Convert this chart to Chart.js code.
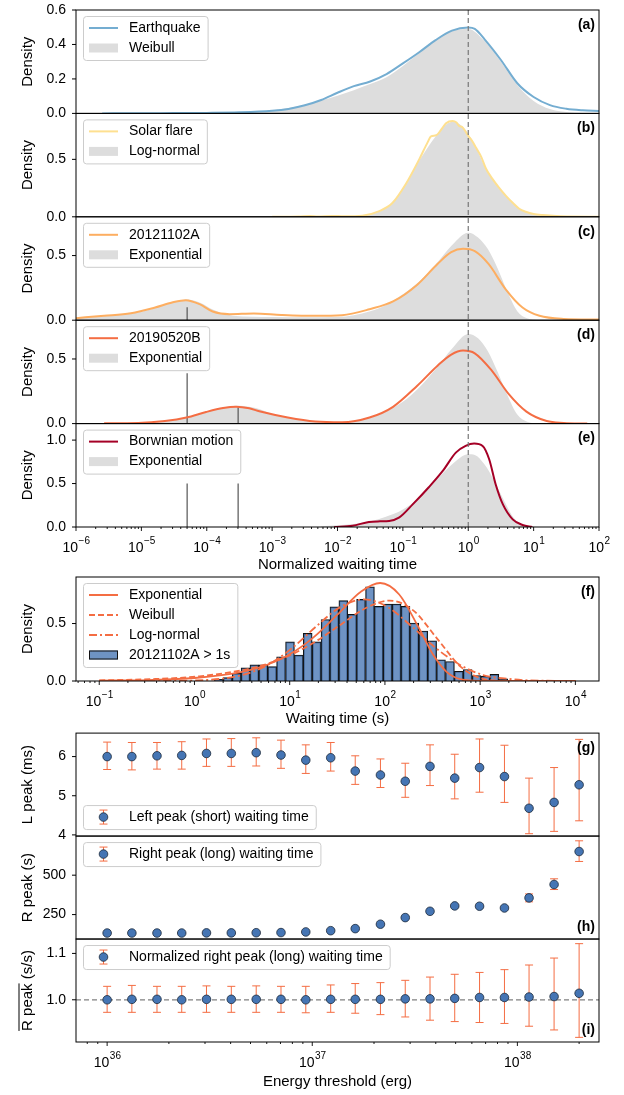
<!DOCTYPE html>
<html>
<head>
<meta charset="utf-8">
<script src="https://cdn.jsdelivr.net/npm/chart.js@4.4.1/dist/chart.umd.min.js"></script>
<style>
  body { margin: 0; background: #fff; }
  #fig { position: relative; width: 624px; height: 1095px; }
  canvas { position: absolute; left: 0; }
</style>
</head>
<body>
<div id="fig">
  <canvas id="c1" width="624" height="574" style="top:0"></canvas>
  <canvas id="c2" width="624" height="154" style="top:574px"></canvas>
  <canvas id="c3" width="624" height="367" style="top:728px"></canvas>
</div>
<script>
// Waiting-time figure: panels (a)-(e) share one log axis, (f) histogram, (g)-(i) energy scan

// ── data (x given as log10 of the value) ────────────────────────────
// (a) earthquake + Weibull
const quakeLogX = [-5.6,-5,-4.5,-4,-3.5,-3,-2.75,-2.5,-2.25,-2,-1.75,-1.5,-1.25,-1,-0.75,-0.5,-0.25,0,0.1,0.25,0.5,0.75,1,1.25,1.5,1.75,2];
const quakeDens = [0,0.001,0.002,0.003,0.006,0.015,0.026,0.047,0.078,0.12,0.158,0.185,0.228,0.29,0.355,0.425,0.48,0.498,0.49,0.43,0.31,0.175,0.095,0.048,0.027,0.018,0.014];
const weibLogX = [-4,-3.5,-3,-2.5,-2.25,-2,-1.75,-1.5,-1.25,-1,-0.75,-0.5,-0.25,0,0.25,0.5,0.75,1,1.25,1.5,1.75,2];
const weibDens = [0.002,0.006,0.018,0.05,0.075,0.103,0.135,0.17,0.21,0.275,0.35,0.425,0.478,0.49,0.42,0.3,0.165,0.072,0.025,0.008,0.002,0];
// (b) solar flare + log-normal
const flareLogX = [-3,-2.6,-2.42,-2.3,-2.08,-1.9,-1.62,-1.36,-1.16,-0.95,-0.75,-0.62,-0.57,-0.49,-0.4,-0.34,-0.24,-0.18,-0.14,-0.09,0,0.06,0.12,0.2,0.27,0.37,0.47,0.58,0.68,0.78,0.88,1,1.14,1.35,1.55,2];
const flareDens = [0,0.002,0.008,0.003,0.008,0.004,0.01,0.05,0.12,0.29,0.5,0.65,0.7,0.71,0.77,0.815,0.834,0.82,0.79,0.78,0.705,0.66,0.6,0.52,0.42,0.33,0.254,0.18,0.122,0.07,0.044,0.025,0.015,0.006,0.003,0];
const lognLogX = [-1.75,-1.5,-1.25,-1,-0.75,-0.5,-0.35,-0.22,-0.1,0,0.12,0.25,0.4,0.55,0.7,0.85,1,1.25,1.5];
const lognDens = [0.005,0.02,0.08,0.24,0.49,0.7,0.8,0.83,0.79,0.72,0.6,0.44,0.31,0.2,0.11,0.05,0.02,0.005,0];
// (c) 20121102A + exponential
const frbALogX = [-6,-5.57,-5.16,-4.79,-4.53,-4.32,-4.11,-3.91,-3.65,-3.28,-2.86,-2.34,-1.93,-1.51,-1.15,-0.78,-0.47,-0.26,-0.08,0.1,0.31,0.57,0.83,1.09,1.46,2];
const frbADens = [0.016,0.034,0.054,0.098,0.137,0.155,0.124,0.067,0.047,0.052,0.041,0.034,0.039,0.085,0.145,0.275,0.435,0.526,0.552,0.534,0.435,0.241,0.098,0.034,0.01,0.005];
const expALogX = [-6,-5.5,-5,-4.75,-4.5,-4.3,-4.1,-3.9,-3.6,-3,-2.5,-2,-1.5,-1.25,-1,-0.75,-0.5,-0.25,0,0.15,0.3,0.45,0.6,0.75,0.9,1.1];
const expADens = [0.015,0.035,0.065,0.1,0.14,0.16,0.135,0.08,0.035,0.025,0.022,0.025,0.07,0.12,0.2,0.3,0.43,0.58,0.677,0.64,0.55,0.4,0.22,0.07,0.015,0];
// (d) 20190520B + exponential
const frbBLogX = [-5.57,-5.05,-4.64,-4.31,-4.01,-3.75,-3.55,-3.35,-3.18,-2.76,-2.34,-1.93,-1.51,-1.15,-0.78,-0.47,-0.26,-0.08,0.1,0.36,0.62,0.89,1.2,1.46,1.82];
const frbBDens = [0.003,0.005,0.02,0.047,0.09,0.12,0.13,0.118,0.093,0.047,0.016,0.01,0.047,0.13,0.293,0.448,0.534,0.565,0.544,0.41,0.228,0.093,0.02,0.005,0];
const expBLogX = [-5,-4.5,-4,-3.75,-3.5,-3.25,-3,-2.5,-2,-1.5,-1,-0.75,-0.5,-0.25,0,0.15,0.3,0.45,0.6,0.75,0.9,1.1];
const expBDens = [0.003,0.025,0.09,0.125,0.138,0.12,0.075,0.022,0.01,0.045,0.17,0.28,0.42,0.58,0.694,0.66,0.56,0.4,0.22,0.07,0.015,0];
// (e) Brownian motion + exponential
const brownLogX = [-2.05,-1.77,-1.52,-1.35,-1.21,-1.06,-0.85,-0.6,-0.39,-0.19,-0.04,0.09,0.22,0.32,0.42,0.53,0.68,0.83,0.98];
const brownDens = [0,0.015,0.058,0.065,0.069,0.107,0.26,0.46,0.645,0.856,0.933,0.96,0.933,0.78,0.49,0.26,0.088,0.023,0];
const expCLogX = [-2.25,-2,-1.75,-1.5,-1.25,-1,-0.75,-0.5,-0.25,0,0.1,0.25,0.4,0.55,0.7,0.85,1,1.15];
const expCDens = [0.01,0.02,0.035,0.065,0.12,0.2,0.34,0.53,0.72,0.838,0.83,0.72,0.53,0.3,0.1,0.02,0.003,0];
// short vertical marks in (c)-(e)
const markLogX = [-4.3, -3.52];
const markTopC = [0.1];
const markTopD = [0.39, 0.125];
const markTopE = [0.5, 0.5];

// (f) histogram of 20121102A > 1s and fitted curves
const histLogX = [0.256,0.349,0.443,0.536,0.629,0.723,0.816,0.909,1.003,1.096,1.189,1.283,1.376,1.469,1.563,1.656,1.749,1.843,1.936,2.029,2.123,2.216,2.309,2.403,2.496,2.589,2.683,2.776,2.869,2.963,3.056,3.149,3.243];
const histDens = [0.015,0.03,0.066,0.115,0.14,0.14,0.125,0.21,0.34,0.225,0.415,0.34,0.535,0.645,0.7,0.58,0.71,0.82,0.65,0.67,0.67,0.65,0.505,0.435,0.35,0.185,0.17,0.085,0.1,0.048,0.04,0.058,0.018];
const expFitX = [-1,-0.5,0,0.5,0.75,1,1.25,1.5,1.75,1.95,2.15,2.35,2.5,2.65,2.8,3,3.5,4];
const expFitY = [0.003,0.008,0.026,0.079,0.137,0.232,0.38,0.577,0.778,0.853,0.753,0.472,0.237,0.077,0.014,0.001,0,0];
const weibFitX = [-1,-0.45,0.05,0.55,0.8,1.05,1.3,1.55,1.8,2.05,2.3,2.55,2.8,3.05,3.3,3.6,4];
const weibFitY = [0.006,0.016,0.041,0.102,0.159,0.243,0.358,0.499,0.635,0.7,0.612,0.367,0.121,0.015,0.001,0,0];
const lnFitX = [-1,-0.5,0,0.5,0.78,1.03,1.28,1.53,1.78,2.03,2.28,2.53,2.78,3.03,3.28,3.5,4];
const lnFitY = [0,0.0002,0.0045,0.052,0.144,0.29,0.476,0.643,0.71,0.643,0.476,0.29,0.144,0.052,0.02,0.006,0];

// (g)-(i) peaks vs energy threshold
const energyThr = [1.00e36,1.32e36,1.75e36,2.31e36,3.05e36,4.03e36,5.33e36,7.04e36,9.30e36,1.23e37,1.62e37,2.15e37,2.84e37,3.75e37,4.95e37,6.54e37,8.65e37,1.14e38,1.51e38,2.00e38];
const leftPeak = [6.00,6.00,6.02,6.03,6.08,6.08,6.10,6.04,5.91,5.97,5.63,5.53,5.37,5.75,5.45,5.72,5.49,4.68,4.83,5.28];
const leftHi   = [6.37,6.36,6.36,6.38,6.45,6.46,6.48,6.42,6.30,6.36,6.02,5.94,5.83,6.30,6.06,6.45,6.29,5.45,5.72,6.44];
const leftLo   = [5.67,5.66,5.68,5.68,5.75,5.75,5.76,5.70,5.57,5.63,5.29,5.21,4.96,5.26,4.92,5.09,4.83,4.03,4.09,4.36];
const rightPeak = [133,133,133,133,134,134,135,136,140,148,161,189,231,271,305,303,292,356,441,650];
const rightHi   = [136,136,136,136,137,137,138,139,143,152,166,194,237,278,314,312,300,381,477,718];
const rightLo   = [130,130,130,130,131,131,132,133,137,144,156,184,225,264,296,294,284,331,409,587];
const normPeak = [1.000,1.001,1.001,1.000,1.001,1.001,1.001,1.001,1.000,1.001,1.001,1.001,1.002,1.002,1.003,1.005,1.005,1.006,1.007,1.014];
const normHi   = [1.029,1.031,1.029,1.029,1.030,1.029,1.030,1.029,1.029,1.032,1.035,1.037,1.042,1.049,1.055,1.059,1.065,1.075,1.090,1.121];
const normLo   = [0.973,0.973,0.973,0.973,0.973,0.973,0.973,0.973,0.972,0.973,0.971,0.968,0.963,0.956,0.953,0.951,0.949,0.943,0.935,0.919];

// tick labels (powers of ten)
const waitTickPow = [-6,-5,-4,-3,-2,-1,0,1,2];
const histTickPow = [-1,0,1,2,3,4];
const energyTickPow = [36,37,38];

// ── styling ─────────────────────────────────────────
const FF = "'Liberation Sans', Arial, sans-serif";
Chart.defaults.font.family = FF;
Chart.defaults.font.size = 14;
Chart.defaults.color = '#000';

const GREY = '#dddddd';
const ERR = '#f46d43';
const DOT = '#4575b4';

const pts = (lx, ys) => lx.map((v, i) => ({ x: Math.pow(10, v), y: ys[i] }));

function curve(lx, ys, color, axis, extra) {
  return Object.assign({
    type: 'line', data: pts(lx, ys), yAxisID: axis, borderColor: color, borderWidth: 2,
    pointRadius: 0, fill: false, cubicInterpolationMode: 'monotone'
  }, extra || {});
}
function greyFill(lx, ys, axis) {
  return {
    type: 'line', data: pts(lx, ys), yAxisID: axis, borderColor: 'rgba(0,0,0,0)', borderWidth: 0,
    backgroundColor: GREY, fill: 'origin', pointRadius: 0, cubicInterpolationMode: 'monotone'
  };
}
function markLines(tops, axis) {
  return tops.map((t, i) => ({
    type: 'line', data: [{ x: Math.pow(10, markLogX[i]), y: 0 }, { x: Math.pow(10, markLogX[i]), y: t }],
    yAxisID: axis, borderColor: '#555', borderWidth: 1.2, pointRadius: 0, fill: false
  }));
}

function yAxis(min, max, ticks, weight, title, digits) {
  return {
    type: 'linear', position: 'left', stack: 'panels', stackWeight: 1, weight,
    min, max,
    grid: { display: false, drawTicks: true, tickLength: 4 },
    border: { display: false },
    ticks: { padding: 6, autoSkip: false, font: { size: 14 }, callback: v => Number(v).toFixed(digits) },
    afterBuildTicks: s => { s.ticks = ticks.map(v => ({ value: v })); },
    afterFit: s => { s.width = 76; s.paddingTop = 0; s.paddingBottom = 0; },
    title: { display: true, text: title, padding: { top: 19, bottom: 0 }, font: { size: 15 } }
  };
}
function xAxis(min, max, pows, height, title) {
  return {
    type: 'logarithmic', position: 'bottom', min, max, offset: false,
    grid: { display: false, drawTicks: false, offset: false },
    border: { display: false },
    ticks: { display: false },
    afterBuildTicks: s => { s.ticks = pows.map(p => ({ value: Math.pow(10, p) })); },
    afterFit: s => { s.height = height; s.paddingLeft = 0; s.paddingRight = 0; },
    title: { display: true, text: title, padding: { top: 0, bottom: 0 }, font: { size: 15 } }
  };
}

// ── custom drawing: frames, ticks, labels, legends, error bars ──
function drawLegend(ctx, area, ys, lg) {
  ctx.font = `14px ${FF}`;
  const n = lg.items.length;
  const maxW = Math.max(...lg.items.map(it => ctx.measureText(it.label).width));
  const w = 46 + maxW + 7, h = 24 + 20 * (n - 1);
  const x = area.left + 7;
  const y = lg.loc === 'lower' ? ys.bottom - 7 - h : ys.top + 6;
  ctx.beginPath();
  ctx.roundRect(x + 0.5, y + 0.5, w, h, 3);
  ctx.fillStyle = 'rgba(255,255,255,0.85)';
  ctx.fill();
  ctx.strokeStyle = '#cccccc';
  ctx.lineWidth = 1;
  ctx.setLineDash([]);
  ctx.stroke();
  lg.items.forEach((it, i) => {
    const yc = y + 12 + 20 * i;
    ctx.save();
    if (it.kind === 'line') {
      ctx.strokeStyle = it.color; ctx.lineWidth = it.width || 2; ctx.setLineDash(it.dash || []);
      ctx.beginPath(); ctx.moveTo(x + 6, yc); ctx.lineTo(x + 35, yc); ctx.stroke();
    } else if (it.kind === 'patch') {
      ctx.fillStyle = it.color; ctx.fillRect(x + 6, yc - 4.5, 29, 9);
      if (it.edge) { ctx.strokeStyle = it.edge; ctx.lineWidth = 1; ctx.strokeRect(x + 6.5, yc - 4, 28, 8); }
    } else if (it.kind === 'err') {
      const cx = x + 20.5;
      ctx.strokeStyle = ERR; ctx.lineWidth = 1;
      ctx.beginPath();
      ctx.moveTo(cx, yc - 7); ctx.lineTo(cx, yc + 7);
      ctx.moveTo(cx - 4, yc - 7); ctx.lineTo(cx + 4, yc - 7);
      ctx.moveTo(cx - 4, yc + 7); ctx.lineTo(cx + 4, yc + 7);
      ctx.stroke();
      ctx.beginPath(); ctx.arc(cx, yc, 4.3, 0, Math.PI * 2);
      ctx.fillStyle = DOT; ctx.fill();
      ctx.strokeStyle = '#1c2a3a'; ctx.lineWidth = 0.8; ctx.stroke();
    }
    ctx.restore();
    ctx.fillStyle = '#000'; ctx.textAlign = 'left'; ctx.textBaseline = 'middle';
    ctx.font = `14px ${FF}`;
    ctx.fillText(it.label, x + 46, yc);
  });
}

function drawPowLabels(ctx, xs, pows, yTop) {
  pows.forEach(p => {
    const px = xs.getPixelForValue(Math.pow(10, p));
    const exp = p < 0 ? '\u2212' + (-p) : String(p);
    ctx.font = `14px ${FF}`;
    const wb = ctx.measureText('10').width;
    ctx.font = `10px ${FF}`;
    const we = ctx.measureText(exp).width;
    const x0 = px - (wb + we) / 2;
    ctx.fillStyle = '#000'; ctx.textAlign = 'left'; ctx.textBaseline = 'middle';
    ctx.font = `14px ${FF}`;
    ctx.fillText('10', x0, yTop + 21);
    ctx.font = `10px ${FF}`;
    ctx.fillText(exp, x0 + wb + 0.5, yTop + 14);
  });
}

function figPlugin(cfg) {
  return {
    id: 'fig',
    beforeDatasetsDraw(chart) {
      if (!cfg.errorBars) return;
      const ctx = chart.ctx, xs = chart.scales.x;
      ctx.save();
      ctx.strokeStyle = ERR; ctx.lineWidth = 1;
      cfg.errorBars.forEach(eb => {
        const ys = chart.scales[eb.axis];
        eb.x.forEach((xv, i) => {
          const px = xs.getPixelForValue(xv);
          const top = ys.getPixelForValue(eb.hi[i]), bot = ys.getPixelForValue(eb.lo[i]);
          ctx.beginPath();
          ctx.moveTo(px, top); ctx.lineTo(px, bot);
          ctx.moveTo(px - 4, top); ctx.lineTo(px + 4, top);
          ctx.moveTo(px - 4, bot); ctx.lineTo(px + 4, bot);
          ctx.stroke();
        });
      });
      ctx.restore();
    },
    afterDatasetsDraw(chart) {
      if (cfg.refX === undefined) return;
      const ctx = chart.ctx, a = chart.chartArea;
      const px = chart.scales.x.getPixelForValue(cfg.refX);
      ctx.save();
      ctx.strokeStyle = '#777'; ctx.lineWidth = 1.2; ctx.setLineDash([5, 3]);
      ctx.beginPath(); ctx.moveTo(px, a.top); ctx.lineTo(px, a.bottom); ctx.stroke();
      ctx.restore();
    },
    afterDraw(chart) {
      const ctx = chart.ctx, a = chart.chartArea, xs = chart.scales.x;
      ctx.save();
      cfg.panels.forEach(p => {
        const ys = chart.scales[p.axis];
        ctx.strokeStyle = '#000'; ctx.lineWidth = 1; ctx.setLineDash([]);
        ctx.strokeRect(a.left, ys.top, a.right - a.left, ys.bottom - ys.top);
        ctx.beginPath();
        ys.ticks.forEach(t => {
          const y = ys.getPixelForValue(t.value);
          ctx.moveTo(a.left - 4, y); ctx.lineTo(a.left, y);
        });
        ctx.stroke();
        ctx.fillStyle = '#000'; ctx.font = `bold 14px ${FF}`;
        ctx.textAlign = 'right'; ctx.textBaseline = 'middle';
        ctx.fillText(p.tag, a.right - 4, p.tagLow ? ys.bottom - 12 : ys.top + 15);
        if (p.legend) drawLegend(ctx, a, ys, p.legend);
      });
      // x ticks (major + minor) on the bottom spine
      const lo = Math.floor(Math.log10(xs.min)), hi = Math.ceil(Math.log10(xs.max));
      ctx.strokeStyle = '#000'; ctx.lineWidth = 0.9;
      ctx.beginPath();
      for (let d = lo; d <= hi; d++) {
        for (let k = 1; k <= 9; k++) {
          const v = k * Math.pow(10, d);
          if (v < xs.min * 0.9999 || v > xs.max * 1.0001) continue;
          const px = xs.getPixelForValue(v);
          ctx.moveTo(px, a.bottom); ctx.lineTo(px, a.bottom + (k === 1 ? 4 : 2));
        }
      }
      ctx.stroke();
      drawPowLabels(ctx, xs, cfg.tickPow, a.bottom);
      // overlined y title
      if (cfg.overline) {
        const ys = chart.scales[cfg.overline.axis];
        const cx = ys.left + 9 + 19, cy = (ys.top + ys.bottom) / 2;
        ctx.font = `15px ${FF}`;
        const W = ctx.measureText(cfg.overline.text).width;
        const w1 = ctx.measureText(cfg.overline.part).width;
        ctx.strokeStyle = '#000'; ctx.lineWidth = 1;
        ctx.beginPath();
        ctx.moveTo(cx - 9, cy + W / 2); ctx.lineTo(cx - 9, cy + W / 2 - w1);
        ctx.stroke();
      }
      ctx.restore();
    }
  };
}

const baseOpts = {
  responsive: false, animation: false, events: [],
  plugins: { legend: { display: false }, tooltip: { enabled: false } }
};

// ── chart 1: panels (a)-(e) ─────────────────────────
new Chart(document.getElementById('c1'), {
  type: 'line',
  data: {
    datasets: [
      curve(quakeLogX, quakeDens, '#74add1', 'ya'),
      curve(flareLogX, flareDens, '#fee090', 'yb'),
      curve(frbALogX, frbADens, '#fdae61', 'yc'),
      curve(frbBLogX, frbBDens, '#f46d43', 'yd'),
      curve(brownLogX, brownDens, '#a50026', 'ye'),
      ...markLines(markTopC, 'yc'),
      ...markLines(markTopD, 'yd'),
      ...markLines(markTopE, 'ye'),
      greyFill(weibLogX, weibDens, 'ya'),
      greyFill(lognLogX, lognDens, 'yb'),
      greyFill(expALogX, expADens, 'yc'),
      greyFill(expBLogX, expBDens, 'yd'),
      greyFill(expCLogX, expCDens, 'ye')
    ]
  },
  options: Object.assign({}, baseOpts, {
    layout: { padding: { top: 10, right: 25, left: 0, bottom: 0 } },
    scales: {
      x: xAxis(1e-6, 1e2, waitTickPow, 47, 'Normalized waiting time'),
      ya: yAxis(0, 0.6, [0, 0.2, 0.4, 0.6], 5, 'Density', 1),
      yb: yAxis(0, 0.9, [0, 0.5], 4, 'Density', 1),
      yc: yAxis(0, 0.8, [0, 0.5], 3, 'Density', 1),
      yd: yAxis(0, 0.8, [0, 0.5], 2, 'Density', 1),
      ye: yAxis(0, 1.19, [0, 0.5, 1.0], 1, 'Density', 1)
    }
  }),
  plugins: [figPlugin({
    refX: 1,
    tickPow: waitTickPow,
    panels: [
      { axis: 'ya', tag: '(a)', legend: { items: [
        { kind: 'line', color: '#74add1', label: 'Earthquake' },
        { kind: 'patch', color: GREY, label: 'Weibull' }] } },
      { axis: 'yb', tag: '(b)', legend: { items: [
        { kind: 'line', color: '#fee090', label: 'Solar flare' },
        { kind: 'patch', color: GREY, label: 'Log-normal' }] } },
      { axis: 'yc', tag: '(c)', legend: { items: [
        { kind: 'line', color: '#fdae61', label: '20121102A' },
        { kind: 'patch', color: GREY, label: 'Exponential' }] } },
      { axis: 'yd', tag: '(d)', legend: { items: [
        { kind: 'line', color: '#f46d43', label: '20190520B' },
        { kind: 'patch', color: GREY, label: 'Exponential' }] } },
      { axis: 'ye', tag: '(e)', legend: { items: [
        { kind: 'line', color: '#a50026', label: 'Borwnian motion' },
        { kind: 'patch', color: GREY, label: 'Exponential' }] } }
    ]
  })]
});

// ── chart 2: panel (f) ──────────────────────────────
new Chart(document.getElementById('c2'), {
  type: 'bar',
  data: {
    datasets: [
      curve(expFitX, expFitY, '#f46d43', 'yf', { borderWidth: 1.8 }),
      curve(weibFitX, weibFitY, '#f46d43', 'yf', { borderWidth: 1.8, borderDash: [6, 3] }),
      curve(lnFitX, lnFitY, '#f46d43', 'yf', { borderWidth: 1.8, borderDash: [8, 3, 2, 3] }),
      {
        type: 'bar', data: pts(histLogX, histDens), yAxisID: 'yf',
        backgroundColor: 'rgba(69,117,180,0.78)', borderColor: '#111', borderWidth: 1,
        borderSkipped: 'start', barPercentage: 1, categoryPercentage: 1
      }
    ]
  },
  options: Object.assign({}, baseOpts, {
    layout: { padding: { top: 3, right: 25, left: 0, bottom: 0 } },
    scales: {
      x: xAxis(0.057, 17700, histTickPow, 47, 'Waiting time (s)'),
      yf: yAxis(0, 0.905, [0, 0.5], 1, 'Density', 1)
    }
  }),
  plugins: [figPlugin({
    tickPow: histTickPow,
    panels: [
      { axis: 'yf', tag: '(f)', legend: { items: [
        { kind: 'line', color: '#f46d43', label: 'Exponential' },
        { kind: 'line', color: '#f46d43', dash: [6, 3], label: 'Weibull' },
        { kind: 'line', color: '#f46d43', dash: [8, 3, 2, 3], label: 'Log-normal' },
        { kind: 'patch', color: 'rgba(69,117,180,0.78)', edge: '#111', label: '20121102A > 1s' }] } }
    ]
  })]
});

// ── chart 3: panels (g)-(i) ─────────────────────────
const dotStyle = {
  type: 'line', showLine: false, pointRadius: 4.3,
  pointBackgroundColor: DOT, pointBorderColor: '#1c2a3a', pointBorderWidth: 0.8
};
const eMin = 7.05e35, eMax = 2.5e38;
new Chart(document.getElementById('c3'), {
  type: 'line',
  data: {
    datasets: [
      Object.assign({ data: energyThr.map((x, i) => ({ x, y: leftPeak[i] })), yAxisID: 'yg' }, dotStyle),
      Object.assign({ data: energyThr.map((x, i) => ({ x, y: rightPeak[i] })), yAxisID: 'yh' }, dotStyle),
      Object.assign({ data: energyThr.map((x, i) => ({ x, y: normPeak[i] })), yAxisID: 'yi' }, dotStyle),
      {
        type: 'line', data: [{ x: eMin, y: 1 }, { x: eMax, y: 1 }], yAxisID: 'yi',
        borderColor: '#808080', borderWidth: 1.2, borderDash: [5, 3], pointRadius: 0, fill: false
      }
    ]
  },
  options: Object.assign({}, baseOpts, {
    layout: { padding: { top: 5, right: 25, left: 0, bottom: 4 } },
    scales: {
      x: xAxis(eMin, eMax, energyTickPow, 49, 'Energy threshold (erg)'),
      yg: yAxis(3.97, 6.6, [4, 5, 6], 3, 'L peak (ms)', 0),
      yh: yAxis(95, 748, [250, 500], 2, 'R peak (s)', 0),
      yi: yAxis(0.909, 1.131, [1.0, 1.1], 1, 'R peak (s/s)', 1)
    }
  }),
  plugins: [figPlugin({
    tickPow: energyTickPow,
    overline: { axis: 'yi', text: 'R peak (s/s)', part: 'R peak' },
    errorBars: [
      { axis: 'yg', x: energyThr, hi: leftHi, lo: leftLo },
      { axis: 'yh', x: energyThr, hi: rightHi, lo: rightLo },
      { axis: 'yi', x: energyThr, hi: normHi, lo: normLo }
    ],
    panels: [
      { axis: 'yg', tag: '(g)', legend: { loc: 'lower', items: [
        { kind: 'err', label: 'Left peak (short) waiting time' }] } },
      { axis: 'yh', tag: '(h)', tagLow: true, legend: { items: [
        { kind: 'err', label: 'Right peak (long) waiting time' }] } },
      { axis: 'yi', tag: '(i)', tagLow: true, legend: { items: [
        { kind: 'err', label: 'Normalized right peak (long) waiting time' }] } }
    ]
  })]
});
</script>
</body>
</html>
